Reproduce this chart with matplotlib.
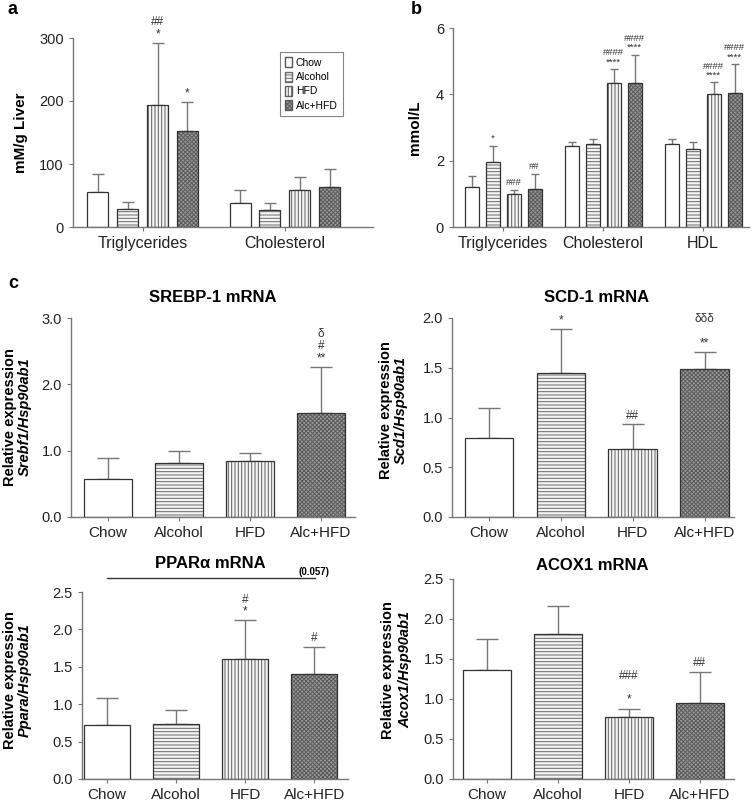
import matplotlib
matplotlib.use('Agg')
import matplotlib.pyplot as plt
from matplotlib.patches import Patch

plt.rcParams['font.family'] = ['Liberation Sans', 'DejaVu Sans']
plt.rcParams['hatch.linewidth'] = 0.7

W, H = 752, 802
groups = ['Chow', 'Alcohol', 'HFD', 'Alc+HFD']

# panel a - liver lipids
a_cats = ['Triglycerides', 'Cholesterol']
a_mean = [[55, 29, 194, 152], [38, 27, 58, 63]]
a_err = [[29, 11, 98, 46], [21, 11, 22, 29]]
a_marks = [['', '', '##\n*', '*'], ['', '', '', '']]

# panel b - serum lipids
b_cats = ['Triglycerides', 'Cholesterol', 'HDL']
b_mean = [[1.2, 1.95, 0.98, 1.14], [2.45, 2.5, 4.33, 4.35], [2.5, 2.35, 4.0, 4.05]]
b_err = [[0.33, 0.5, 0.15, 0.45], [0.12, 0.15, 0.43, 0.84], [0.15, 0.2, 0.36, 0.86]]
b_marks = [['', '*', '###', '##'], ['', '', '####\n****', '####\n****'],
           ['', '', '####\n****', '####\n****']]

# panel c - mRNA
srebp_mean = [0.57, 0.81, 0.84, 1.57]
srebp_err = [0.32, 0.18, 0.12, 0.69]
srebp_marks = ['', '', '', 'δ\n#\n**']

scd_mean = [0.79, 1.45, 0.68, 1.49]
scd_err = [0.31, 0.44, 0.25, 0.17]
scd_marks = ['', '*', '##', 'δδδ\n\n**']

ppar_mean = [0.72, 0.73, 1.61, 1.40]
ppar_err = [0.36, 0.19, 0.51, 0.37]
ppar_marks = ['', '', '#\n*', '#']

acox_mean = [1.36, 1.81, 0.77, 0.95]
acox_err = [0.39, 0.35, 0.11, 0.39]
acox_marks = ['', '', '###\n\n*', '##']

# fill, hatch, hatch colour per group
styles = [('white', None, '#555555'),
          ('#f4f4f4', '-----', '#6a6a6a'),
          ('#f4f4f4', '|||||', '#606060'),
          ('#9a9a9a', 'xxxxxxxx', '#5a5a5a')]


def px_axes(l, r, t, b):
    return fig.add_axes([l / W, 1 - b / H, (r - l) / W, (b - t) / H])


def style_ax(ax):
    for s in ['top', 'right']:
        ax.spines[s].set_visible(False)
    for s in ['left', 'bottom']:
        ax.spines[s].set_color('#777777')
        ax.spines[s].set_linewidth(1)
    ax.tick_params(colors='#777777', labelcolor='#222222', length=3, labelsize=10.5)


def draw_bar(ax, x, h, e, w, i, mark, cap, fs=8.5):
    fc, hatch, hc = styles[i]
    ax.bar(x, h, w, color=fc, hatch=hatch, edgecolor=hc, linewidth=0, zorder=2)
    ax.bar(x, h, w, fill=False, edgecolor='#333333', linewidth=0.9, zorder=3)
    ax.errorbar(x, h, yerr=[[0], [e]], fmt='none', ecolor='#777777',
                elinewidth=1, capsize=cap, capthick=1, zorder=1)
    if mark:
        ax.annotate(mark, (x, h + e), xytext=(0, 2), textcoords='offset points',
                    ha='center', va='bottom', fontsize=fs, color='#333333',
                    linespacing=1.0, annotation_clip=False)


fig = plt.figure(figsize=(W / 100, H / 100), dpi=100)

# ---- panel a
ax = px_axes(73, 373, 38, 227)
style_ax(ax)
for g in range(len(a_cats)):
    for i in range(4):
        draw_bar(ax, g + (i - 1.5) * 0.21, a_mean[g][i], a_err[g][i], 0.147, i,
                 a_marks[g][i], 4)
ax.set_xlim(-0.49, 1.62)
ax.set_ylim(0, 300)
ax.set_yticks([0, 100, 200, 300])
ax.set_xticks(range(len(a_cats)))
ax.set_xticklabels(a_cats, fontsize=11.5)
ax.set_ylabel('mM/g Liver', fontsize=11, fontweight='bold', labelpad=8)
handles = [Patch(facecolor=s[0], hatch=s[1], edgecolor=s[2]) for s in styles]
leg = ax.legend(handles, groups, loc='upper right', bbox_to_anchor=(0.917, 0.952),
                fontsize=7.5, frameon=True, fancybox=False, handlelength=0.7,
                handleheight=1.1, handletextpad=0.35, labelspacing=0.35,
                borderpad=0.5)
leg.get_frame().set_edgecolor('#666666')
leg.get_frame().set_linewidth(0.8)

# ---- panel b
ax = px_axes(453, 749, 28, 227)
style_ax(ax)
for g in range(len(b_cats)):
    for i in range(4):
        draw_bar(ax, g + (i - 1.5) * 0.21, b_mean[g][i], b_err[g][i], 0.14, i,
                 b_marks[g][i], 3, fs=6.8)
ax.set_xlim(-0.5, 2.46)
ax.set_ylim(0, 6)
ax.set_yticks([0, 2, 4, 6])
ax.set_xticks(range(len(b_cats)))
ax.set_xticklabels(b_cats, fontsize=11.5)
ax.set_ylabel('mmol/L', fontsize=11, fontweight='bold', labelpad=10)

# ---- panel c
panels = [
    (srebp_mean, srebp_err, srebp_marks, (71, 355, 318, 517), (-0.52, 3.48), 3.0,
     [0, 1, 2, 3], 'SREBP-1 mRNA', 'Srebf1/Hsp90ab1', (10, 25, 417), (213, 297)),
    (scd_mean, scd_err, scd_marks, (452, 734, 318, 517), (-0.51, 3.41), 2.0,
     [0, 0.5, 1, 1.5, 2], 'SCD-1 mRNA', 'Scd1/Hsp90ab1', (386, 401, 410), (597, 297)),
    (ppar_mean, ppar_err, ppar_marks, (82, 348, 592, 779), (-0.36, 3.49), 2.5,
     [0, 0.5, 1, 1.5, 2, 2.5], 'PPARα mRNA', 'Ppara/Hsp90ab1', (10, 25, 680), (210, 563)),
    (acox_mean, acox_err, acox_marks, (453, 734, 579, 779), (-0.48, 3.48), 2.5,
     [0, 0.5, 1, 1.5, 2, 2.5], 'ACOX1 mRNA', 'Acox1/Hsp90ab1', (388, 405, 670), (592, 565)),
]
for mean, err, marks, box, xl, ytop, yt, title, gene, lab, tpos in panels:
    ax = px_axes(*box)
    style_ax(ax)
    for i in range(4):
        draw_bar(ax, i, mean[i], err[i], 0.67, i, marks[i], 8)
    ax.set_xlim(*xl)
    ax.set_ylim(0, ytop)
    ax.set_yticks(yt)
    ax.set_yticklabels(['%.1f' % v for v in yt])
    ax.set_xticks(range(4))
    ax.set_xticklabels(groups, fontsize=11)
    fig.text(lab[0] / W, 1 - lab[2] / H, 'Relative expression', rotation=90,
             ha='center', va='center', fontsize=10.5, fontweight='bold')
    fig.text(lab[1] / W, 1 - lab[2] / H, gene, rotation=90, ha='center',
             va='center', fontsize=10.5, fontweight='bold', fontstyle='italic')
    fig.text(tpos[0] / W, 1 - tpos[1] / H, title, ha='center', va='center',
             fontsize=12, fontweight='bold')

# PPARa trend line
fig.add_artist(plt.Line2D([107 / W, 315 / W], [1 - 578 / H, 1 - 578 / H],
                          color='#333333', linewidth=1))
fig.text(314 / W, 1 - 572 / H, '(0.057)', ha='center', va='center',
         fontsize=7, fontweight='bold')

# panel letters
fig.text(8 / W, 1 - 10 / H, 'a', fontsize=13, fontweight='bold', va='center')
fig.text(411 / W, 1 - 10 / H, 'b', fontsize=13, fontweight='bold', va='center')
fig.text(8 / W, 1 - 283 / H, 'c', fontsize=13, fontweight='bold', va='center')

fig.savefig('out.png', dpi=100)
